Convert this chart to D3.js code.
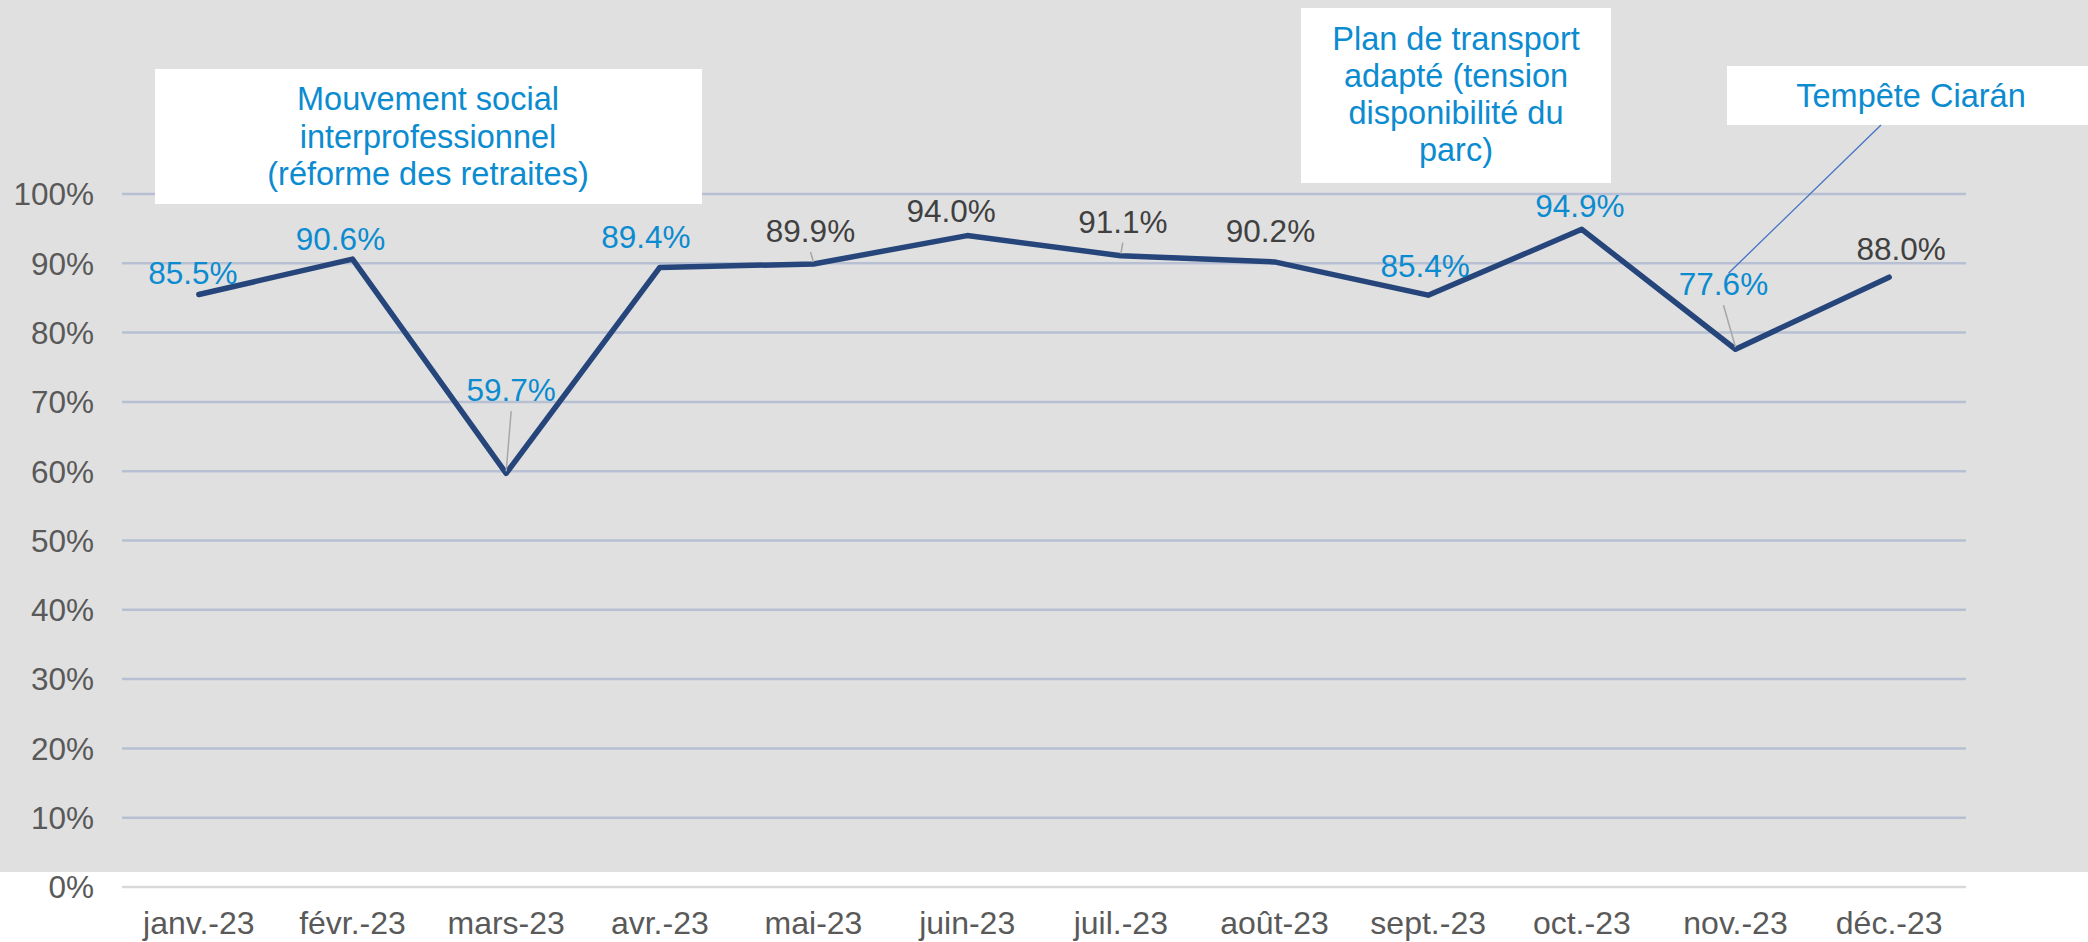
<!DOCTYPE html>
<html lang="fr">
<head>
<meta charset="utf-8">
<script src="https://cdn.jsdelivr.net/npm/d3@7"></script>
<style>
  body { margin: 0; background: #ffffff; }
  svg text { font-family: "Liberation Sans", Arial, sans-serif; }
</style>
</head>
<body>
<div id="chart"></div>
<script>
// Data
const months = ["janv.-23", "févr.-23", "mars-23", "avr.-23", "mai-23", "juin-23",
  "juil.-23", "août-23", "sept.-23", "oct.-23", "nov.-23", "déc.-23"];
const values = [0.855, 0.906, 0.597, 0.894, 0.899, 0.940, 0.911, 0.902, 0.854, 0.949, 0.776, 0.880];
const yTicks = [0, 0.1, 0.2, 0.3, 0.4, 0.5, 0.6, 0.7, 0.8, 0.9, 1.0];

// Which data labels are highlighted (blue) and which have a leader line
const highlighted = [true, true, true, true, false, false, false, false, true, true, true, false];
const hasLeader = [false, false, true, false, true, false, true, false, false, false, true, false];

// Annotation texts
const noteSocial = ["Mouvement social", "interprofessionnel", "(réforme des retraites)"];
const notePlan = ["Plan de transport", "adapté (tension", "disponibilité du", "parc)"];
const noteStorm = ["Tempête Ciarán"];

// Layout (pixel offsets of data labels from their point: [dx, baseline dy])
const labelOffsets = [[-6, -10], [-12, -9], [5, -72], [-14, -19], [-3, -22], [-16, -14],
  [2, -23], [-4, -20], [-3, -18], [-2, -12], [-12, -54], [12, -17]];

const width = 2088;
const height = 942;
const plot = { left: 122, right: 1966, top: 194, bottom: 887 };

const BLUE = "#0b8bd0";
const DARK = "#404040";
const AXIS = "#595959";
const LINE = "#26457b";

const svg = d3.select("#chart")
  .append("svg")
  .attr("width", width)
  .attr("height", height);

// Grey panel
svg.append("rect")
  .attr("x", 0).attr("y", 0)
  .attr("width", width).attr("height", 872)
  .attr("fill", "#e0e0e0");

const x = d3.scaleBand()
  .domain(months)
  .range([plot.left, plot.right]);

const y = d3.scaleLinear()
  .domain([0, 1])
  .range([plot.bottom, plot.top]);

const cx = (d) => x(d) + x.bandwidth() / 2;

// Gridlines
svg.append("g")
  .selectAll("line")
  .data(yTicks)
  .join("line")
  .attr("x1", plot.left)
  .attr("x2", plot.right)
  .attr("y1", (d) => y(d))
  .attr("y2", (d) => y(d))
  .attr("stroke", (d) => (d === 0 ? "#d9d9d9" : "#b6c0d2"))
  .attr("stroke-width", 2.5);

// Y axis labels
svg.append("g")
  .selectAll("text")
  .data(yTicks)
  .join("text")
  .attr("x", 94)
  .attr("y", (d) => y(d))
  .attr("dy", "0.36em")
  .attr("text-anchor", "end")
  .attr("fill", AXIS)
  .style("font-size", "31.5px")
  .text(d3.format(".0%"));

// X axis labels
svg.append("g")
  .selectAll("text")
  .data(months)
  .join("text")
  .attr("x", (d) => cx(d))
  .attr("y", 934)
  .attr("text-anchor", "middle")
  .attr("fill", AXIS)
  .style("font-size", "32px")
  .text((d) => d);

// Annotation boxes
function drawNote(lines, box, textX, firstBaseline, lineStep) {
  svg.append("rect")
    .attr("x", box[0]).attr("y", box[1])
    .attr("width", box[2]).attr("height", box[3])
    .attr("fill", "#ffffff");
  svg.append("g")
    .selectAll("text")
    .data(lines)
    .join("text")
    .attr("x", textX)
    .attr("y", (d, i) => firstBaseline + i * lineStep)
    .attr("text-anchor", "middle")
    .attr("fill", BLUE)
    .style("font-size", "32.5px")
    .text((d) => d);
}

drawNote(noteSocial, [155, 69, 547, 135], 428, 110, 37.5);
drawNote(notePlan, [1301, 8, 310, 175], 1456, 50, 37);
drawNote(noteStorm, [1727, 66, 361, 59], 1911, 107, 37);

// Callout line from "Tempête Ciarán" to the November label
const nov = months.indexOf("nov.-23");
svg.append("line")
  .attr("x1", 1881).attr("y1", 125)
  .attr("x2", cx(months[nov]) + labelOffsets[nov][0] + 5)
  .attr("y2", y(values[nov]) + labelOffsets[nov][1] - 22)
  .attr("stroke", "#4472c4")
  .attr("stroke-width", 1.3);

// Series line
const line = d3.line()
  .x((d, i) => cx(months[i]))
  .y((d) => y(d));

svg.append("path")
  .datum(values)
  .attr("d", line)
  .attr("fill", "none")
  .attr("stroke", LINE)
  .attr("stroke-width", 5.5)
  .attr("stroke-linejoin", "round")
  .attr("stroke-linecap", "round");

// Leader lines for moved labels
svg.append("g")
  .selectAll("line")
  .data(values.map((v, i) => i).filter((i) => hasLeader[i]))
  .join("line")
  .attr("x1", (i) => cx(months[i]) + labelOffsets[i][0])
  .attr("y1", (i) => y(values[i]) + labelOffsets[i][1] + 10)
  .attr("x2", (i) => cx(months[i]))
  .attr("y2", (i) => y(values[i]) - 2)
  .attr("stroke", "#a6a6a6")
  .attr("stroke-width", 1.5);

// Data labels
svg.append("g")
  .selectAll("text")
  .data(values)
  .join("text")
  .attr("x", (d, i) => cx(months[i]) + labelOffsets[i][0])
  .attr("y", (d, i) => y(d) + labelOffsets[i][1])
  .attr("text-anchor", "middle")
  .attr("fill", (d, i) => (highlighted[i] ? BLUE : DARK))
  .style("font-size", "31.5px")
  .text(d3.format(".1%"));
</script>
</body>
</html>
